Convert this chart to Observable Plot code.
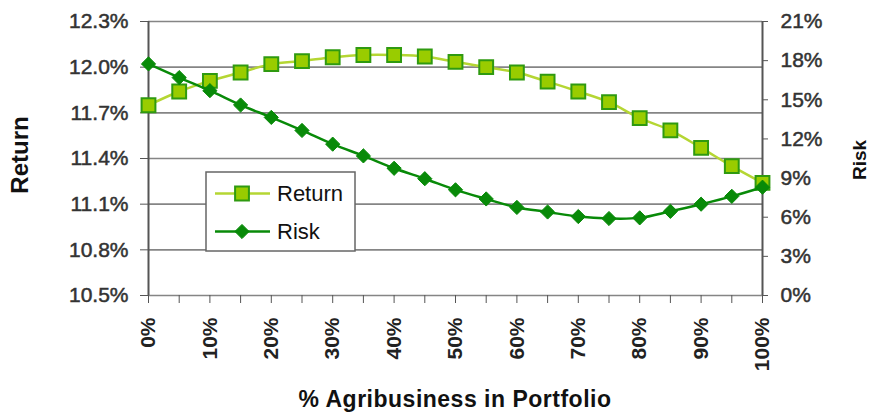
<!DOCTYPE html>
<html>
<head>
<meta charset="utf-8">
<script src="https://cdn.jsdelivr.net/npm/d3@7"></script>
<script src="https://cdn.jsdelivr.net/npm/@observablehq/plot@0.6"></script>
<style>
  html, body { margin: 0; padding: 0; background: #fff; }
  #chart { width: 870px; height: 414px; position: relative; }
  .thick text { paint-order: stroke; }
</style>
</head>
<body>
<div id="chart"></div>
<script>
// ---- data ----
const agriPct = [0, 5, 10, 15, 20, 25, 30, 35, 40, 45, 50, 55, 60, 65, 70, 75, 80, 85, 90, 95, 100];
const returnVals = [11.75, 11.84, 11.91, 11.965, 12.02, 12.04, 12.065, 12.08, 12.08, 12.07, 12.035, 12.0, 11.965, 11.905, 11.84, 11.77, 11.665, 11.585, 11.47, 11.35, 11.24];
const riskVals = [17.75, 16.7, 15.7, 14.6, 13.65, 12.65, 11.6, 10.7, 9.75, 8.95, 8.1, 7.4, 6.75, 6.4, 6.05, 5.9, 5.95, 6.45, 7.0, 7.6, 8.3];
const returnTicks = [10.5, 10.8, 11.1, 11.4, 11.7, 12.0, 12.3];
const riskTicks = [0, 3, 6, 9, 12, 15, 18, 21];
const xLabelTicks = [0, 10, 20, 30, 40, 50, 60, 70, 80, 90, 100];
const xMinorTicks = [0, 5, 10, 15, 20, 25, 30, 35, 40, 45, 50, 55, 60, 65, 70, 75, 80, 85, 90, 95, 100];
const seriesNames = ["Return", "Risk"];
const xTitle = "% Agribusiness in Portfolio";
const yLeftTitle = "Return";
const yRightTitle = "Risk";

// map risk (0–21%) onto the return scale (10.5–12.3%)
const retMin = 10.5, retMax = 12.3, riskMax = 21;
const riskToY = r => retMin + (r / riskMax) * (retMax - retMin);
const yToRisk = y => Math.round((y - retMin) / (retMax - retMin) * riskMax);

const data = agriPct.map((p, i) => ({ p, ret: returnVals[i], risk: riskVals[i] }));

const returnLine = "#b5d633";
const returnFill = "#99cc00";
const returnStroke = "#2f9a10";
const riskColor = "#088a08";

const plot = Plot.plot({
  width: 870,
  height: 414,
  marginLeft: 148,
  marginRight: 108,
  marginTop: 21,
  marginBottom: 119,
  style: { fontFamily: "'Liberation Sans', Arial, sans-serif", fontSize: "21px", color: "#333", background: "#fff" },
  x: { domain: [0, 100] },
  y: { domain: [retMin, retMax] },
  marks: [
    Plot.ruleY(returnTicks, { stroke: "#858585", strokeWidth: 1.6 }),
    Plot.ruleX([0, 100], { stroke: "#555", strokeWidth: 2 }),
    Plot.axisY(returnTicks, { anchor: "left", label: null, tickSize: 8, tickPadding: 12, tickFormat: d => d.toFixed(1) + "%", stroke: "#555", fill: "#333", className: "thick" }),
    Plot.axisY(riskTicks.map(riskToY), { anchor: "right", label: null, tickSize: 5, tickPadding: 13, tickFormat: d => yToRisk(d) + "%", stroke: "#555", fill: "#333", className: "thick" }),
    Plot.axisX(xMinorTicks, { anchor: "bottom", label: null, tickSize: 8, tickFormat: () => "", stroke: "#555" }),
    Plot.axisX(xLabelTicks, { anchor: "bottom", label: null, tickSize: 0, tickPadding: 22, tickRotate: -90, tickFormat: d => d + "%", fill: "#222", fontWeight: "bold" }),
    Plot.line(data, { x: "p", y: "ret", stroke: returnLine, strokeWidth: 2.5, curve: "catmull-rom" }),
    Plot.dot(data, { x: "p", y: "ret", symbol: "square", r: 7.8, fill: returnFill, stroke: returnStroke, strokeWidth: 2 }),
    Plot.line(data, { x: "p", y: d => riskToY(d.risk), stroke: riskColor, strokeWidth: 2.5, curve: "catmull-rom" }),
    Plot.dot(data, { x: "p", y: d => riskToY(d.risk), symbol: "diamond2", r: 6.4, fill: riskColor, stroke: riskColor, strokeWidth: 1 })
  ]
});

const svg = d3.select(plot);
svg.selectAll("g.thick text").attr("stroke", "#333").attr("stroke-width", 0.5);
const font = "'Liberation Sans', Arial, sans-serif";

// axis titles
svg.append("text").attr("transform", "translate(28,155) rotate(-90)")
  .attr("text-anchor", "middle").attr("font-family", font).attr("font-size", 24)
  .attr("font-weight", "bold").attr("fill", "#111").text(yLeftTitle);
svg.append("text").attr("transform", "translate(866,160) rotate(-90)")
  .attr("text-anchor", "middle").attr("font-family", font).attr("font-size", 19)
  .attr("font-weight", "bold").attr("fill", "#111").text(yRightTitle);
svg.append("text").attr("x", 455).attr("y", 407)
  .attr("text-anchor", "middle").attr("font-family", font).attr("font-size", 23)
  .attr("font-weight", "bold").attr("letter-spacing", 0.5).attr("fill", "#111").text(xTitle);

// legend
const lg = svg.append("g");
lg.append("rect").attr("x", 206).attr("y", 172).attr("width", 149).attr("height", 79)
  .attr("fill", "#fff").attr("stroke", "#666").attr("stroke-width", 1.5);
const sym = d3.symbol();
// Return entry
lg.append("line").attr("x1", 215).attr("x2", 270).attr("y1", 193.5).attr("y2", 193.5)
  .attr("stroke", returnLine).attr("stroke-width", 2.5);
lg.append("path").attr("transform", "translate(242,193.5)")
  .attr("d", sym.type(d3.symbolSquare).size(Math.PI * 7.8 * 7.8)())
  .attr("fill", returnFill).attr("stroke", returnStroke).attr("stroke-width", 2);
lg.append("text").attr("x", 277).attr("y", 201).attr("text-anchor", "start").attr("font-family", font).attr("font-size", 22)
  .attr("fill", "#111").text(seriesNames[0]);
// Risk entry
lg.append("line").attr("x1", 215).attr("x2", 270).attr("y1", 231.5).attr("y2", 231.5)
  .attr("stroke", riskColor).attr("stroke-width", 2.5);
lg.append("path").attr("transform", "translate(242,231.5)")
  .attr("d", sym.type(d3.symbolDiamond2).size(Math.PI * 6.4 * 6.4)())
  .attr("fill", riskColor).attr("stroke", riskColor).attr("stroke-width", 1);
lg.append("text").attr("x", 277).attr("y", 239).attr("text-anchor", "start").attr("font-family", font).attr("font-size", 22)
  .attr("fill", "#111").text(seriesNames[1]);

document.getElementById("chart").appendChild(plot);
</script>
</body>
</html>
